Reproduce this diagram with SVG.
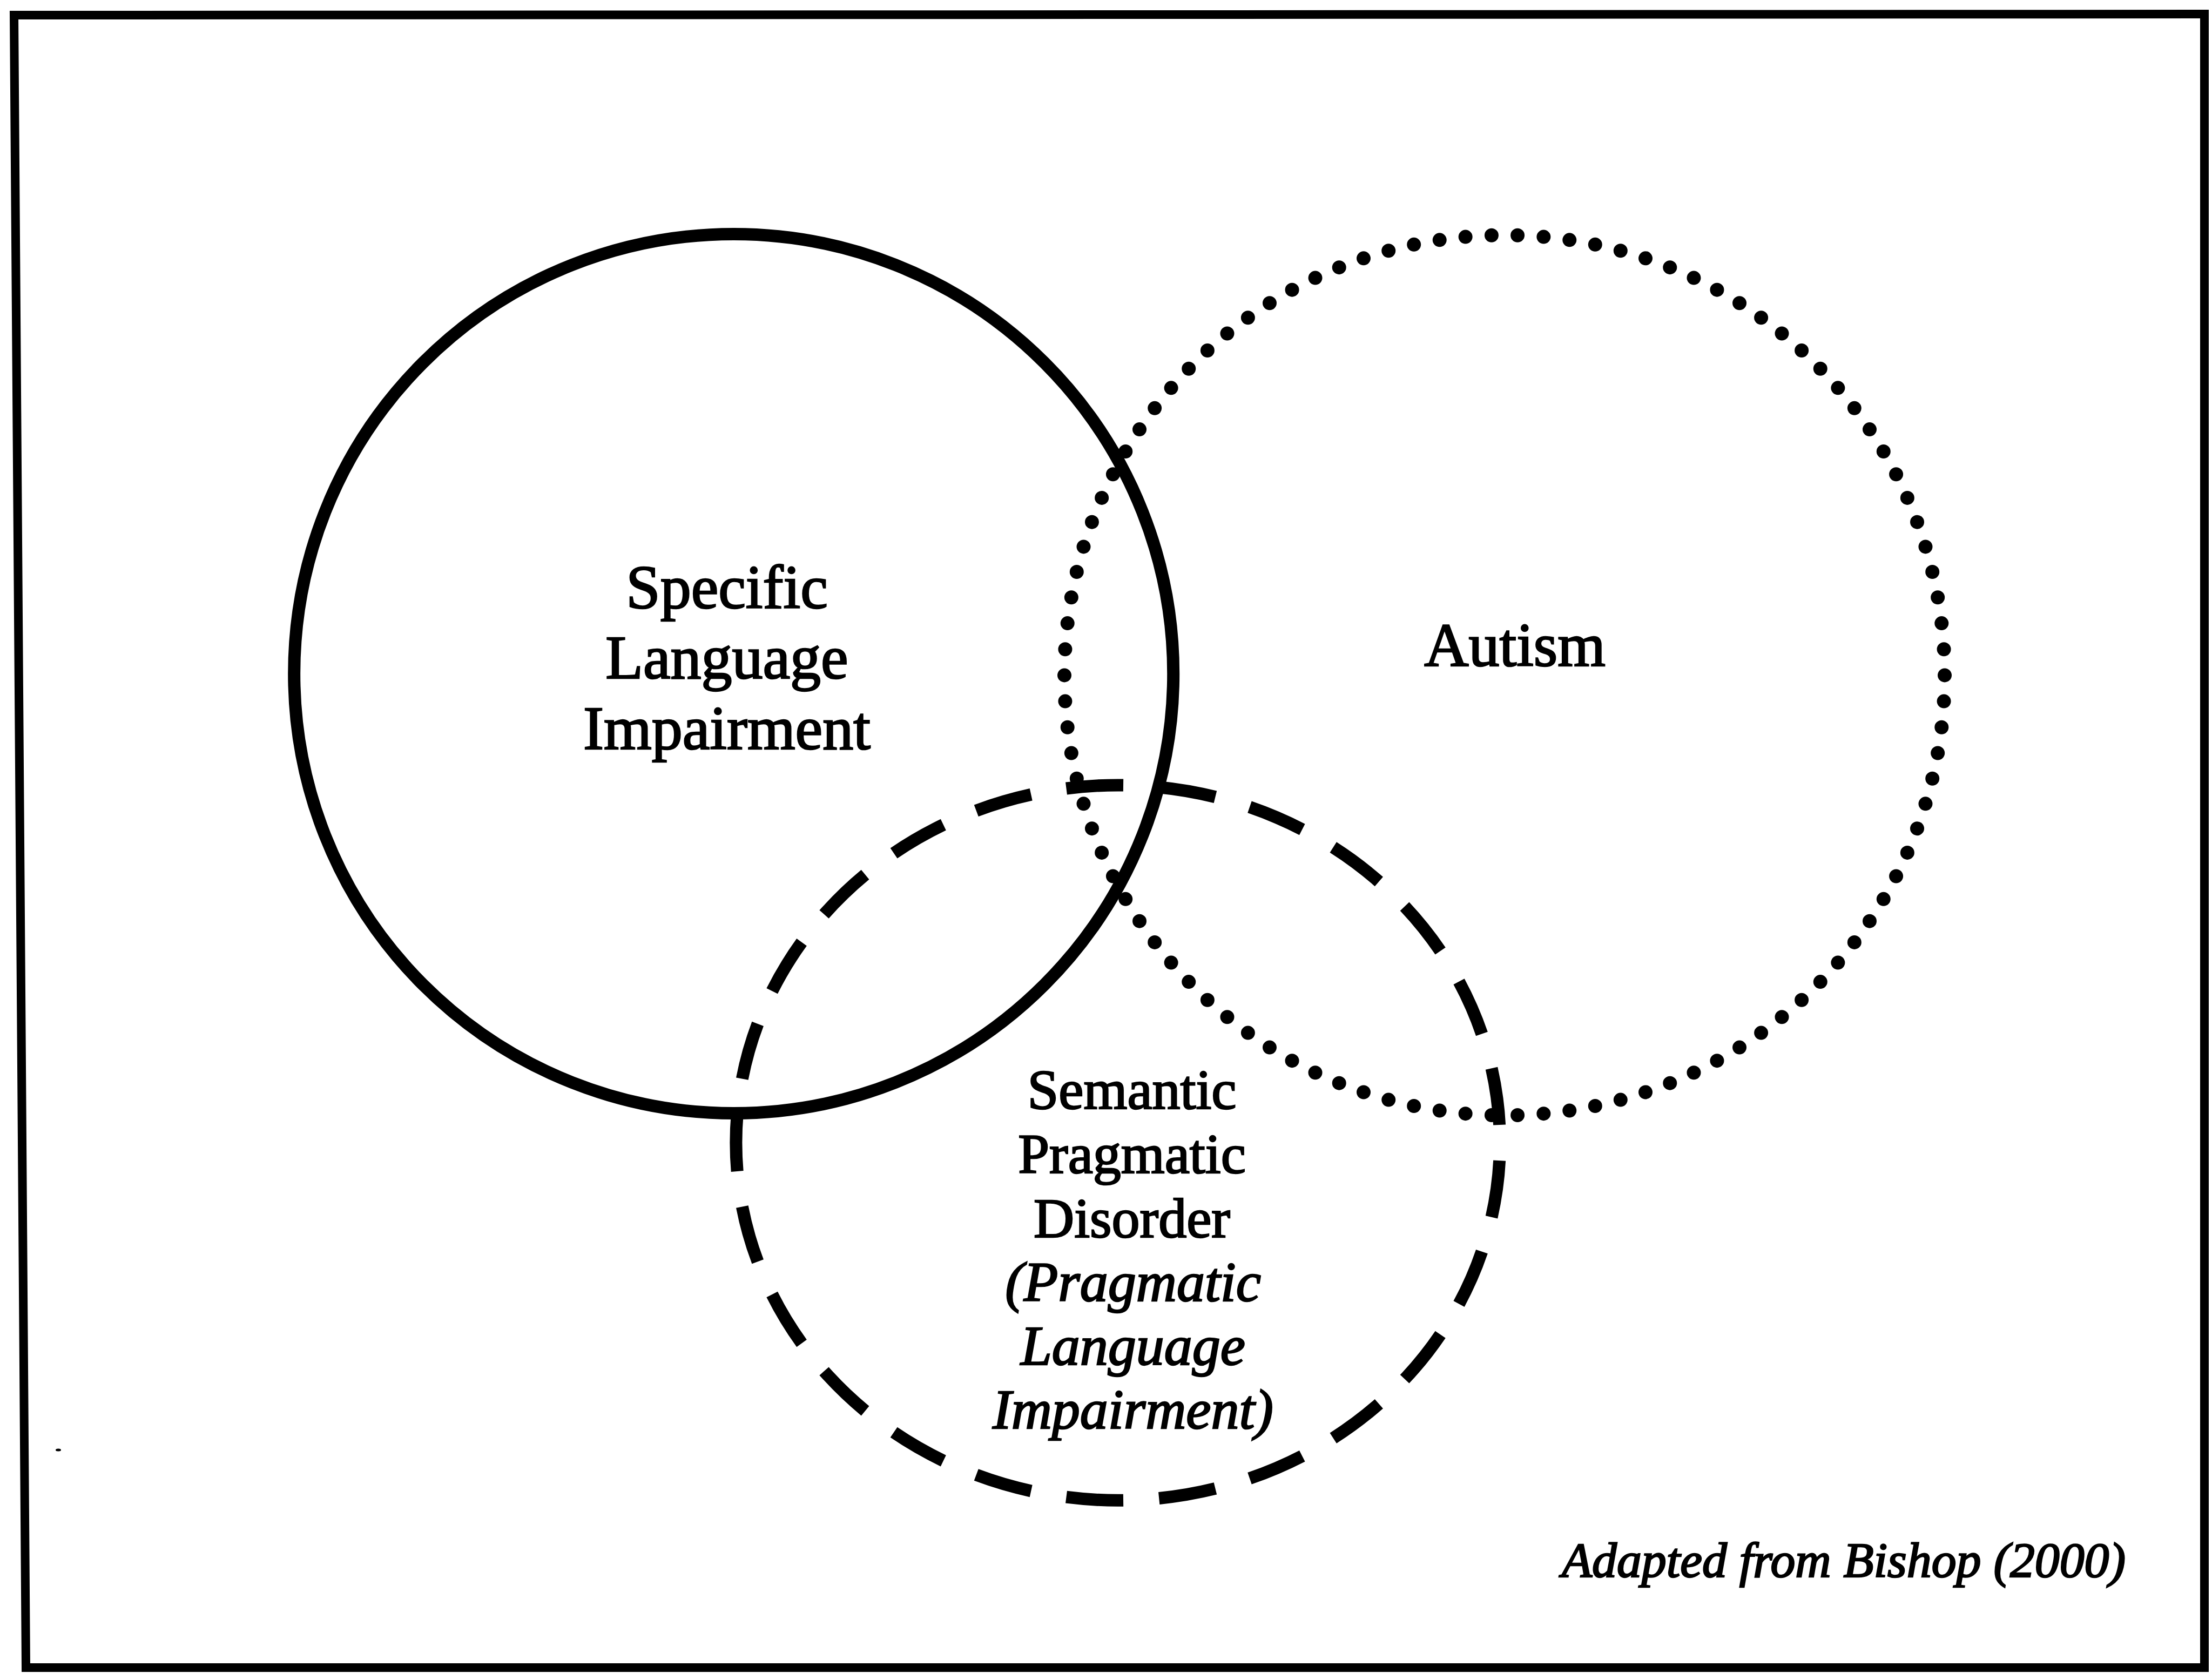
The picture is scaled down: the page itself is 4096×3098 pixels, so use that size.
<svg xmlns="http://www.w3.org/2000/svg" width="4096" height="3098" viewBox="0 0 4096 3098">
  <style>
    .lbl { font-family: "Liberation Serif", "Times New Roman", serif; fill: #000; stroke: #000; stroke-width: 2.6; text-anchor: middle; }
    .big { font-size: 114px; }
    .mid { font-size: 104px; }
    .it { font-style: italic; }
    .ring { fill: none; stroke: #000; }
    .solid { stroke-width: 23; }
    .dotted { stroke-width: 26; stroke-linecap: round; stroke-dasharray: 0 10; }
    .dashed { stroke-width: 23; stroke-linecap: butt; stroke-dasharray: 61.5 38.5; stroke-dashoffset: 30.75; }
  </style>

  <rect width="4096" height="3098" fill="#fff"/>

  <!-- outer frame -->
  <g id="frame">
    <path d="M26 28 L4082 26 L4082 3088 L48 3088 Z" fill="none" stroke="#000" stroke-width="16" stroke-linejoin="miter"/>
    <ellipse cx="108" cy="2685" rx="5" ry="2.5" fill="#000"/>
  </g>

  <!-- Specific Language Impairment: solid circle -->
  <g id="sli">
    <circle class="ring solid" cx="1358.7" cy="1247.5" r="814"/>
    <text class="lbl big" x="1346" y="1126">Specific</text>
    <text class="lbl big" x="1346" y="1256">Language</text>
    <text class="lbl big" x="1346" y="1387">Impairment</text>
  </g>

  <!-- Autism: dotted circle -->
  <g id="autism">
    <circle class="ring dotted" cx="2786" cy="1250.4" r="815" pathLength="1060"/>
    <text class="lbl big" x="2805" y="1233">Autism</text>
  </g>

  <!-- Semantic Pragmatic Disorder: dashed ellipse, path starts at its leftmost point -->
  <g id="spd">
    <path class="ring dashed" pathLength="2500"
          d="M1362.9 2116.1 A707.3 662.2 0 1 1 2777.5 2116.1 A707.3 662.2 0 1 1 1362.9 2116.1 Z"/>
    <text class="lbl mid" x="2096" y="2053">Semantic</text>
    <text class="lbl mid" x="2096" y="2172">Pragmatic</text>
    <text class="lbl mid" x="2096" y="2291">Disorder</text>
    <text class="lbl mid it" x="2098" y="2409">(Pragmatic</text>
    <text class="lbl mid it" x="2098" y="2527">Language</text>
    <text class="lbl mid it" x="2098" y="2645">Impairment)</text>
  </g>

  <g id="connectors"></g>

  <!-- source note -->
  <g id="source">
    <text class="lbl it" x="2892" y="2920" style="font-size:90px; text-anchor:start" textLength="1044" lengthAdjust="spacingAndGlyphs">Adapted from Bishop (2000)</text>
  </g>
</svg>
